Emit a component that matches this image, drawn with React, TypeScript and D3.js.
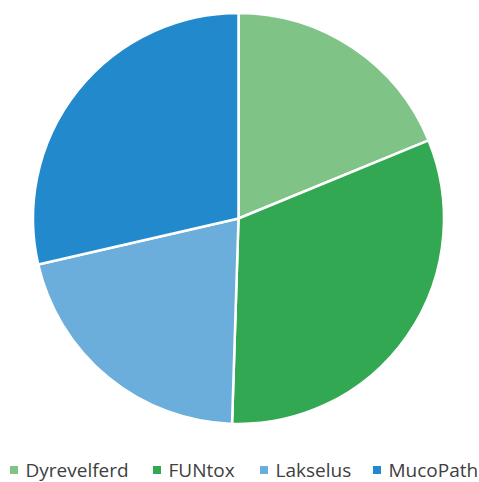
import { useEffect, useRef } from 'react';
import * as d3 from 'd3';

const categories = ['Dyrevelferd', 'FUNtox', 'Lakselus', 'MucoPath'];
const values = [18.8, 31.7, 20.9, 28.6];
const colors = ['#7fc386', '#33a852', '#6baedc', '#2289cc'];

const WIDTH = 479;
const HEIGHT = 482;

const App = () => {
  const svgRef = useRef<SVGSVGElement>(null);

  useEffect(() => {
    if (!svgRef.current) return;
    const svg = d3.select(svgRef.current);
    svg.selectAll('*').remove();

    const cx = 238.5;
    const cy = 218.5;
    const radius = 205.5;

    const pie = d3
      .pie<number>()
      .sort(null)
      .value((d) => d);
    const arc = d3
      .arc<d3.PieArcDatum<number>>()
      .innerRadius(0)
      .outerRadius(radius);

    svg
      .append('g')
      .attr('transform', `translate(${cx},${cy})`)
      .selectAll('path')
      .data(pie(values))
      .enter()
      .append('path')
      .attr('d', arc)
      .attr('fill', (_, i) => colors[i])
      .attr('stroke', '#fff')
      .attr('stroke-width', 2.5)
      .attr('stroke-linejoin', 'round');

    // legend along the bottom edge
    const legendX = [10, 153, 260, 373];
    const legend = svg
      .append('g')
      .selectAll('g')
      .data(categories)
      .enter()
      .append('g')
      .attr('transform', (_, i) => `translate(${legendX[i]},0)`);

    legend
      .append('rect')
      .attr('x', 0)
      .attr('y', 466)
      .attr('width', 8)
      .attr('height', 8)
      .attr('fill', (_, i) => colors[i]);

    legend
      .append('text')
      .attr('x', 15.5)
      .attr('y', 477)
      .attr('font-family', '"Open Sans", sans-serif')
      .attr('font-size', 19)
      .attr('fill', '#404040')
      .text((d) => d);
  }, []);

  return (
    <svg
      ref={svgRef}
      width={WIDTH}
      height={HEIGHT}
      style={{ position: 'absolute', left: 0, top: 0, background: '#fff' }}
    />
  );
};

export default App;
